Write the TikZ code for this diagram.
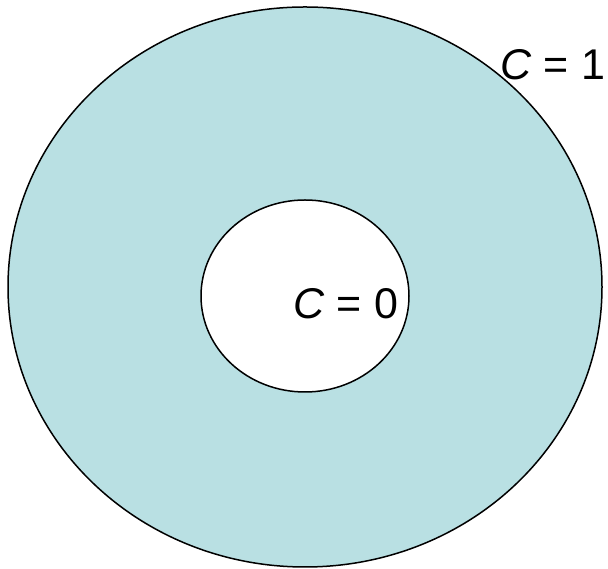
\documentclass[tikz,border=0pt]{standalone}
\usepackage{fontspec}
\setmainfont{Liberation Sans}
\usepackage{tikz}
\definecolor{ringblue}{RGB}{185,224,227}

\begin{document}
\begin{tikzpicture}[x=1pt, y=1pt, line width=1.5pt,
		lbl/.style={anchor=base west, inner sep=0pt, font=\fontsize{43}{43}\selectfont}]
				\useasboundingbox (0,0) rectangle (608,569);
				
				% 外圆
				\filldraw[fill=ringblue, draw=black] (305,282) ellipse [x radius=297, y radius=280];
				
				% 内圆
				\filldraw[fill=white, draw=black] (305,273) ellipse [x radius=104, y radius=96];
				
				% 标注
				\node[lbl] (cone) at (500,489) {\textit{C} = 1};
				\node[lbl] (czero) at (293,250) {\textit{C} = 0};
			\end{tikzpicture}
\end{document}
